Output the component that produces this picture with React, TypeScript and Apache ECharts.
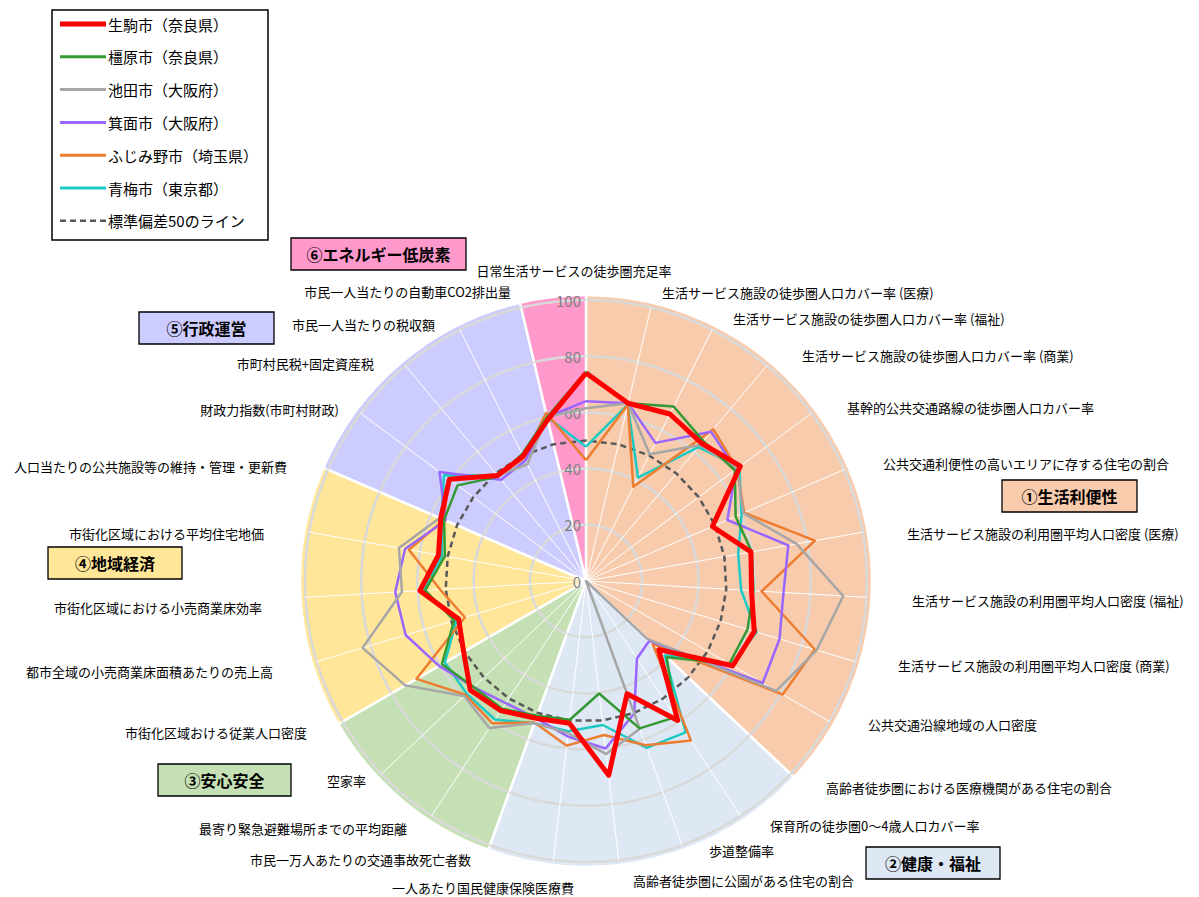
import React, { useEffect, useRef } from "react";
import * as echarts from "echarts";

// ---- Data ----
const categories = [
  "日常生活サービスの徒歩圏充足率",
  "生活サービス施設の徒歩圏人口カバー率 (医療)",
  "生活サービス施設の徒歩圏人口カバー率 (福祉)",
  "生活サービス施設の徒歩圏人口カバー率 (商業)",
  "基幹的公共交通路線の徒歩圏人口カバー率",
  "公共交通利便性の高いエリアに存する住宅の割合",
  "生活サービス施設の利用圏平均人口密度 (医療)",
  "生活サービス施設の利用圏平均人口密度 (福祉)",
  "生活サービス施設の利用圏平均人口密度 (商業)",
  "公共交通沿線地域の人口密度",
  "高齢者徒歩圏における医療機関がある住宅の割合",
  "保育所の徒歩圏0～4歳人口カバー率",
  "歩道整備率",
  "高齢者徒歩圏に公園がある住宅の割合",
  "一人あたり国民健康保険医療費",
  "市民一万人あたりの交通事故死亡者数",
  "最寄り緊急避難場所までの平均距離",
  "空家率",
  "市街化区域おける従業人口密度",
  "都市全域の小売商業床面積あたりの売上高",
  "市街化区域における小売商業床効率",
  "市街化区域における平均住宅地価",
  "人口当たりの公共施設等の維持・管理・更新費",
  "財政力指数(市町村財政)",
  "市町村民税+固定資産税",
  "市民一人当たりの税収額",
  "市民一人当たりの自動車CO2排出量",
];

const cityNames = [
  "生駒市（奈良県）",
  "橿原市（奈良県）",
  "池田市（大阪府）",
  "箕面市（大阪府）",
  "ふじみ野市（埼玉県）",
  "青梅市（東京都）",
];

const ikoma = [74, 65, 66.5, 64, 68.5, 49, 59.6, 59, 62.5, 60.3, 35.6, 59.4, 42.7, 69.6, 51, 52, 55.2, 56.6, 50.3, 47.3, 59.2, 53.3, 56.3, 60.6, 49, 49.8, 59];
const kashihara = [74.5, 65, 69.5, 65, 66, 58, 59.9, 59.7, 60, 58.9, 39.5, 58, 55.8, 40.3, 49.7, 51, 54.4, 55, 59.2, 49, 57.3, 51, 55, 57, 48.5, 50.6, 60];
const ikeda = [61.5, 65, 50.5, 63.2, 67, 61, 76.1, 91.7, 85.7, 78.2, 30, 0, 56, 62, 54.5, 53.8, 62.6, 59.6, 74.3, 83, 65.6, 67.6, 56.7, 61, 49, 46.5, 60];
const minoh = [64, 65, 55, 69.3, 66.5, 54.8, 73.1, 70.4, 71.9, 72.6, 31, 33, 50.2, 60, 55.7, 52, 52, 55, 60.4, 67, 68, 65.4, 54.4, 65, 47, 48, 60];
const fujimino = [43, 64.5, 37.5, 70.5, 67, 61.3, 82.7, 62.6, 85, 80.8, 32.6, 67.9, 62.2, 55.2, 59, 53.6, 60.6, 59, 69.7, 45, 52, 64, 55, 61, 48.5, 49, 61.5];
const ome = [47.8, 64.5, 41.2, 62.2, 68, 60.3, 55, 55.3, 63.4, 59.6, 38.5, 64.5, 63.2, 51.6, 53.8, 53.9, 59, 58.4, 58, 48, 58, 52, 56, 63, 49, 49, 60];
const cityValues = [ikoma, kashihara, ikeda, minoh, fujimino, ome];

const refLineName = "標準偏差50のライン";
const refValue = 50;

const groupNames = ["①生活利便性", "②健康・福祉", "③安心安全", "④地域経済", "⑤行政運営", "⑥エネルギー低炭素"];
const groupSizes = [10, 5, 3, 4, 4, 1];

// ---- Styles / layout ----
const FONT = '"Noto Sans CJK JP", "Noto Sans", sans-serif';
const CX = 586;
const CY = 581;
const R = 281;
const groupColors = ["#f8cbad", "#dee8f5", "#c5e0b4", "#ffe699", "#ccccff", "#ff99cc"];
const cityColors = ["#ff0000", "#339933", "#a6a6a6", "#9966ff", "#ed7d31", "#1cc9c4"];
const cityWidths = [5, 2.5, 2.5, 2.5, 2.5, 2.5];

const labelLayout: [number, number, string][] = [
  [574, 270, "center"],
  [662, 292, "left"],
  [733, 318, "left"],
  [802, 355, "left"],
  [847, 407, "left"],
  [883, 463, "left"],
  [907, 533, "left"],
  [912, 600, "left"],
  [898, 665, "left"],
  [868, 724, "left"],
  [826, 787, "left"],
  [770, 825, "left"],
  [709, 850, "left"],
  [633, 880, "left"],
  [574, 887, "right"],
  [471, 859, "right"],
  [407, 828, "right"],
  [366, 780, "right"],
  [307, 732, "right"],
  [273, 671, "right"],
  [262, 607, "right"],
  [264, 533, "right"],
  [287, 466, "right"],
  [339, 409, "right"],
  [374, 363, "right"],
  [435, 324, "right"],
  [511, 291, "right"],
];

const groupBoxLayout: [number, number, number, number][] = [
  [1002, 480, 135, 32],
  [866, 847, 134, 32],
  [158, 764, 133, 32],
  [48, 547, 134, 32],
  [139, 312, 135, 32],
  [291, 238, 175, 32],
];

export default function App() {
  const ref = useRef<HTMLDivElement>(null);

  useEffect(() => {
    if (!ref.current) return;
    const chart = echarts.init(ref.current, undefined, { renderer: "svg" });

    // radar runs counter-clockwise; reorder so indicators go clockwise
    const n = categories.length;
    const order = categories.map((_, i) => (i === 0 ? 0 : n - i));

    const indicator = order.map((k, j) => {
      const ind: any = { name: categories[k], min: 0, max: 100 };
      if (j === 0) {
        ind.axisLabel = {
          show: true,
          color: "#7f7f7f",
          fontSize: 15,
          fontFamily: FONT,
          margin: 5,
        };
      }
      return ind;
    });

    const graphics: any[] = [];

    // category labels
    categories.forEach((c, i) => {
      const [x, y, align] = labelLayout[i];
      graphics.push({
        type: "text",
        x,
        y,
        silent: true,
        style: {
          text: c,
          font: `13px ${FONT}`,
          fill: "#000",
          align,
          verticalAlign: "middle",
        },
      });
    });

    // group boxes
    groupNames.forEach((g, i) => {
      const [x, y, w, h] = groupBoxLayout[i];
      graphics.push({
        type: "rect",
        shape: { x, y, width: w, height: h },
        style: { fill: groupColors[i], stroke: "#000", lineWidth: 1.3 },
        silent: true,
      });
      graphics.push({
        type: "text",
        x: x + w / 2,
        y: y + h / 2,
        silent: true,
        style: {
          text: g,
          font: `bold 16px ${FONT}`,
          fill: "#000",
          align: "center",
          verticalAlign: "middle",
        },
      });
    });

    // legend box
    const legendNames = [...cityNames, refLineName];
    graphics.push({
      type: "rect",
      shape: { x: 52, y: 10, width: 216, height: 230 },
      style: { fill: "#fff", stroke: "#000", lineWidth: 1.5 },
      silent: true,
    });
    legendNames.forEach((nm, i) => {
      const y = 24 + i * 32.8;
      const isRef = i === cityNames.length;
      graphics.push({
        type: "line",
        shape: { x1: 60, y1: y, x2: 106, y2: y },
        silent: true,
        style: {
          stroke: isRef ? "#595959" : cityColors[i],
          lineWidth: isRef ? 2.5 : i === 0 ? 5 : 3,
          lineDash: isRef ? [6, 4] : null,
        },
      });
      graphics.push({
        type: "text",
        x: 108,
        y,
        silent: true,
        style: {
          text: nm,
          font: `15px ${FONT}`,
          fill: "#000",
          align: "left",
          verticalAlign: "middle",
        },
      });
    });

    const citySeries = cityNames
      .map((nm, ci) => ({
        type: "radar",
        name: nm,
        z: 10 + (cityNames.length - ci),
        symbol: "none",
        silent: true,
        lineStyle: { color: cityColors[ci], width: cityWidths[ci], join: "round" },
        itemStyle: { color: cityColors[ci] },
        data: [{ name: nm, value: order.map((k) => cityValues[ci][k]) }],
      }))
      .reverse();

    chart.setOption({
      animation: false,
      backgroundColor: "#fff",
      textStyle: { fontFamily: FONT },
      radar: {
        center: [CX, CY],
        radius: R,
        startAngle: 90,
        shape: "circle",
        splitNumber: 5,
        z: 2,
        indicator,
        axisName: { show: false },
        axisLine: { show: true, lineStyle: { color: "#ffffff", width: 1 } },
        axisTick: { show: false },
        axisLabel: { show: false },
        splitLine: { lineStyle: { color: "#d9d9d9", width: 2.5 } },
        splitArea: { show: false },
      },
      series: [
        {
          type: "pie",
          z: 1,
          silent: true,
          center: [CX, CY],
          radius: [0, R + 5],
          startAngle: 90,
          clockwise: true,
          label: { show: false },
          labelLine: { show: false },
          itemStyle: { borderColor: "#ffffff", borderWidth: 2.5 },
          data: groupNames.map((g, i) => ({
            name: g,
            value: groupSizes[i],
            itemStyle: { color: groupColors[i] },
          })),
        },
        {
          type: "radar",
          name: refLineName,
          z: 9,
          symbol: "none",
          silent: true,
          lineStyle: { color: "#595959", width: 2.5, type: [6, 4] },
          itemStyle: { color: "#595959" },
          data: [{ name: refLineName, value: order.map(() => refValue) }],
        },
        ...citySeries,
      ],
      graphic: { elements: graphics },
    });

    return () => chart.dispose();
  }, []);

  return (
    <div
      ref={ref}
      style={{ position: "absolute", left: 0, top: 0, width: 1199, height: 897 }}
    />
  );
}
